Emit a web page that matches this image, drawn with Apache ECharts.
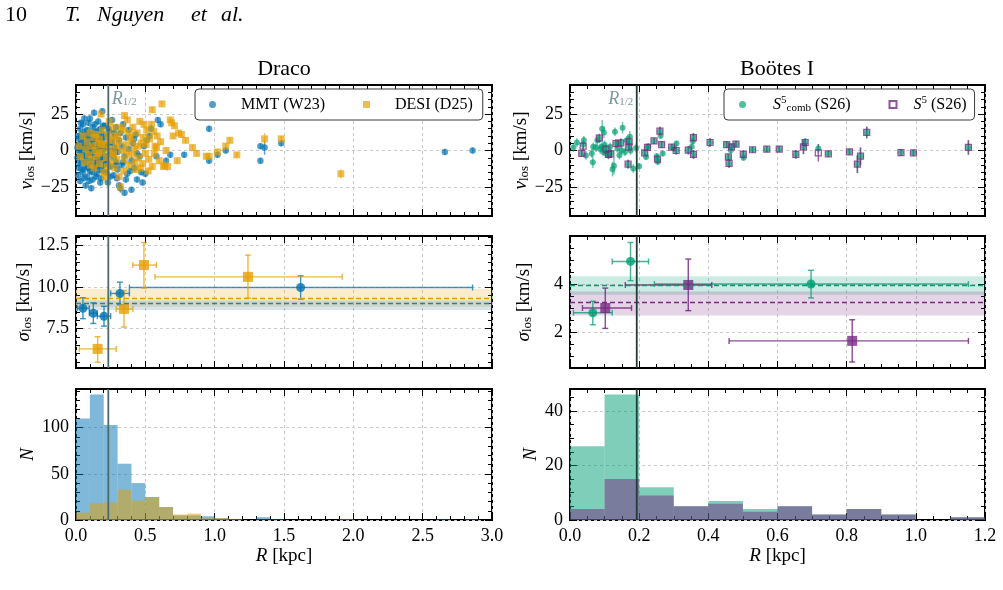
<!DOCTYPE html>
<html>
<head>
<meta charset="utf-8">
<script src="https://cdn.jsdelivr.net/npm/echarts@6.0.0/dist/echarts.min.js"></script>
<style>html,body{margin:0;background:#fff}#chart{width:1003px;height:590px}</style>
</head>
<body>
<div id="chart"></div>
<script>
"use strict";

// ---- data ---------------------------------------------------------------
// Draco, individual stars: [R kpc, v_los km/s, error]
const DRACO_MMT = [
  [0.01,2,2],[0.01,-5,2],[0.02,8,2],[0.02,-12,2],[0.02,0,2],[0.03,15,2],[0.03,-3,2],[0.03,-21,2],
  [0.04,5,2],[0.04,-8,2],[0.04,11,2],[0.05,-1,2],[0.05,18,2],[0.05,-15,3],[0.06,3,2],[0.06,-6,2],
  [0.06,22,2],[0.07,9,2],[0.07,-11,2],[0.07,-24,2],[0.08,1,2],[0.08,14,2],[0.08,-4,2],[0.08,-18,2],
  [0.09,6,2],[0.09,-9,2],[0.09,19,2],[0.10,-2,2],[0.10,12,2],[0.10,-14,2],[0.10,22,2],
  [0.11,4,2],[0.11,-7,2],[0.11,-26,2],[0.12,16,2],[0.12,-1,2],[0.12,-20,2],[0.13,8,2],[0.13,-12,2],
  [0.13,26,2],[0.14,2,2],[0.14,-5,2],[0.14,13,2],[0.15,-16,2],[0.15,6,2],[0.15,-9,2],[0.16,20,2],
  [0.16,0,2],[0.16,-3,2],[0.17,10,2],[0.17,-13,2],[0.17,-6,2],[0.18,3,2],[0.18,15,2],[0.18,-19,2],
  [0.19,7,2],[0.19,-2,2],[0.19,27,2],[0.20,-10,2],[0.20,11,2],[0.20,1,2],
  [0.21,-7,2],[0.21,17,2],[0.22,4,2],[0.22,-15,2],[0.23,-22,2],[0.23,9,2],[0.24,-3,2],[0.24,13,2],
  [0.25,0,2],[0.25,-11,2],[0.26,6,2],[0.26,21,2],[0.27,-5,2],[0.27,-17,2],[0.28,2,2],[0.28,10,2],
  [0.29,-8,3],[0.29,16,2],[0.30,-1,2],[0.30,-13,2],
  [0.31,-24,2],[0.31,7,2],[0.32,-26,3],[0.33,3,2],[0.33,-10,2],[0.34,18,2],[0.35,-29,2],[0.35,-4,2],
  [0.36,9,2],[0.37,-16,2],[0.38,1,2],[0.38,14,2],[0.40,-27,2],[0.40,-7,3],[0.41,5,2],[0.42,-12,3],
  [0.43,11,2],[0.44,-20,2],[0.44,-2,2],
  [0.47,-15,2],[0.48,-22,2],[0.49,3,2],[0.50,-16,2],[0.51,7,2],[0.53,10,2],[0.54,15,2],[0.58,-4,2],
  [0.59,21,2],[0.61,18,2],[0.65,-7,2],[0.68,-3,2],
  [0.015,10,2],[0.015,-17,2],[0.025,4,2],[0.025,-9,2],[0.035,-1,2],[0.035,19,2],[0.045,-13,2],
  [0.045,2,2],[0.055,7,2],[0.055,-19,2],[0.065,-3,2],[0.065,13,2],[0.075,4,2],[0.075,-7,2],
  [0.085,10,2],[0.085,-12,2],[0.095,0,2],[0.095,-21,2],[0.105,7,2],[0.105,-5,2],[0.115,11,2],
  [0.115,-15,2],[0.125,3,2],[0.125,-9,2],[0.135,18,2],[0.135,-3,2],[0.145,-18,2],[0.145,8,2],
  [0.155,-11,2],[0.155,1,2],[0.165,14,2],[0.165,-8,2],[0.175,-22,2],[0.175,5,2],[0.185,-5,2],
  [0.185,9,2],[0.195,-14,2],[0.195,17,2],[0.205,-4,2],[0.215,2,2],[0.225,-9,2],[0.235,15,2],
  [0.245,-18,2],[0.255,5,2],[0.265,-2,2],[0.275,12,2],[0.285,-10,2],[0.295,-19,2],[0.32,12,2],
  [0.34,-8,2],[0.36,-20,2],[0.39,-14,2],[0.42,8,2],[0.46,-4,2],
  [0.78,-3,2],[0.96,15,2],[0.96,-7,2],[1.02,-3,2],[1.08,0,2],[1.33,3,2],[1.33,-7,2],[1.36,2,5],
  [1.48,5,2],[2.66,-1,2],[2.86,0,2]
];
const DRACO_DESI = [
  [0.02,3,2],[0.03,-4,2],[0.05,10,2],[0.06,-8,2],[0.07,1,2],[0.08,6,2],[0.09,-3,2],[0.10,12,2],
  [0.11,-6,2],[0.12,3,2],[0.13,-12,2],[0.13,9,2],[0.14,0,2],[0.15,-4,2],[0.16,5,2],[0.17,8,2],
  [0.17,-9,2],[0.18,25,2],[0.19,-1,2],[0.19,14,2],[0.20,-15,2],[0.21,4,2],[0.21,-18,4],[0.22,-5,2],
  [0.23,11,2],[0.24,1,2],[0.24,20,2],[0.25,-8,2],[0.26,7,2],[0.27,-2,2],[0.27,16,2],[0.28,-12,2],
  [0.29,3,2],[0.30,10,2],[0.31,-18,2],[0.31,6,2],[0.32,-25,3],[0.33,0,2],[0.34,14,2],[0.35,24,2],
  [0.35,-6,2],[0.36,4,2],[0.37,21,2],[0.38,-10,2],[0.39,9,2],[0.40,-3,2],[0.41,16,2],[0.42,1,2],
  [0.43,-13,2],[0.44,12,2],[0.45,-5,2],[0.46,20,2],[0.47,5,2],[0.48,-9,2],[0.49,18,2],[0.50,-2,2],
  [0.51,14,2],[0.52,-14,2],[0.53,8,2],[0.55,28,2],[0.55,-11,2],[0.56,13,2],[0.57,3,2],[0.58,2,2],
  [0.60,-7,2],[0.61,6,2],[0.62,32,2],[0.63,-11,2],[0.64,-10,2],[0.65,0,2],[0.66,-11,3],[0.68,21,2],
  [0.69,19,2],[0.70,10,2],[0.71,17,2],[0.73,-7,2],[0.74,12,2],[0.76,11,2],[0.79,7,2],[0.84,2,2],
  [0.105,-10,2],[0.145,11,2],[0.165,-2,2],[0.185,4,2],[0.225,-11,2],[0.235,7,2],[0.255,-3,2],
  [0.275,10,2],[0.295,-6,2],[0.325,16,2],[0.345,-14,2],[0.365,-1,2],[0.385,12,2],[0.405,6,2],
  [0.425,-8,2],[0.445,3,2],[0.465,-12,2],[0.485,9,2],[0.505,4,2],[0.525,-6,2],[0.545,18,2],
  [0.565,-2,2],[0.585,10,2],
  [0.87,-2,2],[0.94,-4,2],[0.96,-4,2],[1.02,-1,2],[1.08,3,2],[1.11,7,2],[1.16,-3,2],[1.36,8,4],
  [1.48,8,2],[1.91,-16,3]
];
// Bootes I, individual stars: [R kpc, v_los km/s, error]
const BOO_COMB = [
  [0.01,2,3],[0.02,5.5,3],[0.034,-2,2],[0.038,4,3],[0.04,7,3],[0.046,-3.4,3],[0.063,-2,3],[0.066,-8,4],
  [0.067,2.5,3],[0.075,2,3],[0.079,7,4],[0.085,8,3],[0.087,1,3],[0.091,2.5,3],[0.093,15,6],[0.096,-1,3],
  [0.098,12.4,4],[0.1,4,3],[0.104,1,3],[0.106,-2,3],[0.111,-3,3],[0.116,2.5,3],[0.118,-2,3],[0.123,-12.8,5],
  [0.127,-10.5,6],[0.13,12.8,3],[0.133,4.8,3],[0.137,1.4,3],[0.143,-3.2,3],[0.147,5.3,3],[0.149,0.2,3],
  [0.152,15.6,4],[0.159,-1,3],[0.164,7,3],[0.168,-9.4,3],[0.17,2.5,3],[0.171,6,3],[0.173,9.4,4],[0.175,0,3],
  [0.183,-12.4,3],[0.191,1.8,3],[0.2,-10.8,2],[0.216,-1.6,2],[0.22,-4.4,2],[0.224,2,2],[0.226,3,2],
  [0.243,6.6,2],[0.251,-3.9,2],[0.253,-6,3],[0.254,-7.8,2],[0.26,13.3,3],[0.262,10.1,2],[0.265,4.1,2],
  [0.268,-2,2],[0.294,2.3,2],[0.3,1.4,2],[0.307,0,2],[0.308,4.8,2],[0.342,0.2,2],[0.352,2.5,2],
  [0.355,6.4,2],[0.357,8.9,3],[0.357,-2.7,3],[0.405,5.5,3],[0.453,4.1,2],[0.458,-4.4,2],[0.46,-8.9,3],
  [0.465,0.2,2],[0.467,2.5,2],[0.48,4.4,2],[0.501,-2.7,2],[0.502,-5,2],[0.528,0.5,2],[0.569,0.9,2],
  [0.605,0.9,2],[0.653,-2.7,3],[0.675,2.5,5],[0.68,5.5,3],[0.718,1.4,3],[0.747,-2.3,2],[0.808,-0.9,2],
  [0.831,-9.4,6],[0.84,-3.9,6],[0.858,12.4,4],[0.957,-1.4,2],[0.993,-1.6,2],[1.152,2.1,5]
];
const BOO_S5 = [
  [0.034,-2,2],[0.038,3,3],[0.085,8.5,3],[0.104,1,3],[0.111,-2.7,3],[0.118,-2.3,3],[0.133,4.8,3],
  [0.147,5.3,3],[0.168,-9.4,3],[0.17,2.5,3],[0.171,6,4],[0.216,-1.6,2],[0.224,2.1,2],[0.243,6.6,2],
  [0.253,-6,3],[0.26,13.3,3],[0.265,4.1,2],[0.294,2.3,2],[0.307,0,3],[0.342,0.2,3],[0.357,8.9,3],
  [0.357,-2.7,3],[0.405,5.5,3],[0.453,4.1,2],[0.458,-4.4,2],[0.46,-8.9,3],[0.467,2.5,2],[0.48,4.4,2],
  [0.501,-2.7,3],[0.528,0.5,2],[0.569,0.9,2],[0.605,0.9,2],[0.653,-2.7,3],[0.675,2.5,5],[0.68,5.5,3],
  [0.718,-1.6,6],[0.747,-2.3,2],[0.808,-0.9,2],[0.831,-9.4,6],[0.84,-3.9,6],[0.858,12.4,4],
  [0.957,-1.4,2],[0.993,-1.6,2],[1.152,2.1,5]
];

// binned dispersion: [R, R lo, R hi, sigma, sigma lo, sigma hi]
const DRACO_SIG_MMT = [
  [0.05,0.01,0.096,8.73,8.10,9.36],[0.125,0.096,0.154,8.43,7.81,9.05],[0.202,0.154,0.25,8.25,7.65,8.85],
  [0.317,0.25,0.385,9.62,8.94,10.30],[1.62,0.385,2.86,9.98,9.28,10.68]
];
const DRACO_SIG_DESI = [
  [0.156,0.024,0.29,6.28,5.48,7.02],[0.346,0.29,0.41,8.69,7.59,9.78],
  [0.49,0.41,0.58,11.33,9.94,12.69],[1.24,0.57,1.92,10.62,9.34,11.93]
];
const BOO_SIG_COMB = [
  [0.066,0.01,0.122,2.80,2.30,3.28],[0.175,0.122,0.227,4.94,4.14,5.73],[0.697,0.244,1.152,4.0,3.42,4.57]
];
const BOO_SIG_S5 = [
  [0.102,0.036,0.178,3.0,2.15,3.83],[0.342,0.16,0.41,3.96,2.89,5.04],[0.816,0.46,1.152,1.63,0.75,2.51]
];
// global dispersion: [value, lo, hi]
const DRACO_MEAN_MMT = [9.0, 8.63, 9.19];
const DRACO_MEAN_DESI = [9.34, 8.80, 9.90];
const BOO_MEAN_COMB = [3.96, 3.55, 4.32];
const BOO_MEAN_S5 = [3.26, 2.69, 3.69];

// histograms, 0.1 kpc bins starting at 0
const BIN = 0.1;
const DRACO_HIST_MMT = [110,136,103,61,40,25,14,5,5,4,2,0,0,3,1,0,0,0,0,0,0,0,0,0,0,0,1,0,1];
const DRACO_HIST_DESI = [8,18,19,33,21,24,14,6,7,2,2,1,0,0,0,0,0,0,0,1];
const BOO_HIST_COMB = [27,46,12,5,7,4,5,2,4,2,0,1];
const BOO_HIST_S5 = [4,15,9,5,6,3,5,2,4,2,0,1];

const R_HALF_DRACO = 0.233;
const R_HALF_BOO = 0.193;

// tick values
const X_TICKS_DRACO = [0, 0.5, 1, 1.5, 2, 2.5, 3];
const X_TICKS_BOO = [0, 0.2, 0.4, 0.6, 0.8, 1.0, 1.2];
const V_TICKS = [-25, 0, 25];
const SIG_TICKS_DRACO = [7.5, 10, 12.5];
const SIG_TICKS_BOO = [2, 4];
const N_TICKS_DRACO = [0, 50, 100];
const N_TICKS_BOO = [0, 20, 40];

// ---- style ---------------------------------------------------------------
const FONT = "'Liberation Serif', 'DejaVu Serif', serif";
const BLUE = "#0072B2", ORANGE = "#E69F00", GREEN = "#009E73", PURPLE = "#762A83";
const RH_LEFT = "#4d6a6a", RH_RIGHT = "#1e3e36", RH_TEXT = "#5e7f7f";
const COLS = [{ left: 76, width: 416 }, { left: 570, width: 415 }];
const ROWS = [{ top: 85, height: 131 }, { top: 236, height: 132 }, { top: 389, height: 131 }];

const rgba = (hex, a) => {
  const n = parseInt(hex.slice(1), 16);
  return `rgba(${n >> 16},${(n >> 8) & 255},${n & 255},${a})`;
};
const steps = (lo, hi, step) => {
  const out = [];
  for (let i = Math.ceil(lo / step - 1e-9); i * step <= hi + 1e-9; i++) out.push(+(i * step).toFixed(4));
  return out;
};
const minus = (v) => (v < 0 ? "\u2212" : "") + Math.abs(v);

const RICH = {
  i: { fontFamily: FONT, fontStyle: "italic", fontSize: 19, lineHeight: 20, color: "#000" },
  sub: { fontFamily: FONT, fontSize: 13, lineHeight: 8, verticalAlign: "bottom", color: "#000" },
};
const NAME_STYLE = { fontFamily: FONT, fontSize: 19, lineHeight: 20, color: "#000", rich: RICH };

// four axes per grid and dimension: main + minor ticks on both sides
function axisSet(dim, g, min, max, majors, minorStep, o) {
  const pos = dim === "x" ? ["bottom", "top"] : ["left", "right"];
  const minors = steps(min, max, minorStep);
  const base = {
    type: "value", gridIndex: g, min, max,
    axisLine: { show: false, onZero: false },
    splitLine: { show: false }, axisLabel: { show: false },
  };
  const tick = (vals, len) => ({
    show: true, inside: true, length: len, customValues: vals,
    lineStyle: { color: "#000", width: 1 },
  });
  const main = {
    ...base, position: pos[0], axisTick: tick(majors, 7),
    splitLine: { show: true, lineStyle: { type: [3, 3], color: "#c9c9c9", width: 1 } },
    axisLabel: o.labels
      ? { show: true, customValues: majors, formatter: o.fmt, color: "#000",
          fontFamily: FONT, fontSize: 18, margin: 7 }
      : { show: false },
  };
  if (o.name) {
    Object.assign(main, { name: o.name, nameLocation: "middle", nameGap: o.gap,
      nameTextStyle: NAME_STYLE, nameRotate: dim === "y" ? 90 : 0 });
  }
  return [
    main,
    { ...base, position: pos[0], axisTick: tick(minors, 4) },
    { ...base, position: pos[1], axisTick: tick(majors, 7) },
    { ...base, position: pos[1], axisTick: tick(minors, 4) },
  ];
}

const grids = [], xAxes = [], yAxes = [], series = [];
const fmt1 = (v) => v.toFixed(1);

// panel specs: [col, row, xRange, xTicks, xMinor, yRange, yTicks, yMinor, yName, yGap]
const V_NAME = "{i|v}{sub|los} [km/s]";
const S_NAME = "{i|\u03c3}{sub|los} [km/s]";
const PANELS = [
  [0, 0, [0, 3], X_TICKS_DRACO, 0.1, [-45, 45], V_TICKS, 5, V_NAME, 36],
  [0, 1, [0, 3], X_TICKS_DRACO, 0.1, [5.13, 13.08], SIG_TICKS_DRACO, 0.5, S_NAME, 36],
  [0, 2, [0, 3], X_TICKS_DRACO, 0.1, [0, 142], N_TICKS_DRACO, 10, "{i|N}", 38],
  [1, 0, [0, 1.2], X_TICKS_BOO, 0.05, [-45, 45], V_TICKS, 5, V_NAME, 38],
  [1, 1, [0, 1.2], X_TICKS_BOO, 0.05, [0.5, 6.0], SIG_TICKS_BOO, 0.5, S_NAME, 36],
  [1, 2, [0, 1.2], X_TICKS_BOO, 0.05, [0, 48], N_TICKS_BOO, 5, "{i|N}", 24],
];
PANELS.forEach(([c, r, xr, xt, xm, yr, yt, ym, yName, yGap], g) => {
  grids.push({ left: COLS[c].left, width: COLS[c].width, top: ROWS[r].top, height: ROWS[r].height,
    show: true, borderColor: "#000", borderWidth: 2, backgroundColor: "transparent" });
  const bottom = r === 2;
  xAxes.push(...axisSet("x", g, xr[0], xr[1], xt, xm, {
    labels: bottom, fmt: fmt1, name: bottom ? "{i|R} [kpc]" : "", gap: 17 }));
  yAxes.push(...axisSet("y", g, yr[0], yr[1], yt, ym, {
    labels: true, fmt: r === 0 ? minus : (r === 1 && c === 0 ? fmt1 : String), name: yName, gap: yGap }));
});
const on = (g) => ({ xAxisIndex: g * 4, yAxisIndex: g * 4 });
const yRange = (g) => [yAxes[g * 4].min, yAxes[g * 4].max];

// ---- series builders -------------------------------------------------------
function vErrors(g, data, color, alpha) {
  return { type: "custom", ...on(g), data, encode: { x: 0, y: 1 }, clip: true, silent: true, z: 2,
    renderItem: (p, api) => {
      const a = api.coord([api.value(0), api.value(1) - api.value(2)]);
      const b = api.coord([api.value(0), api.value(1) + api.value(2)]);
      return { type: "line", shape: { x1: a[0], y1: a[1], x2: b[0], y2: b[1] },
        style: { stroke: rgba(color, alpha), lineWidth: 1.5 } };
    } };
}
function points(g, name, data, symbol, size, style, z) {
  return { type: "scatter", name, ...on(g), data: data.map((d) => [d[0], d[1]]), symbol,
    symbolSize: size, itemStyle: style, clip: true, silent: true, z: z || 3 };
}
function sigErrors(g, data, color, alpha) {
  return { type: "custom", ...on(g), data, encode: { x: 0, y: 3 }, clip: true, silent: true, z: 3,
    renderItem: (p, api) => {
      const v = (i) => api.value(i);
      const c = api.coord([v(0), v(3)]), l = api.coord([v(1), v(3)]), r = api.coord([v(2), v(3)]);
      const t = api.coord([v(0), v(5)]), b = api.coord([v(0), v(4)]);
      const st = { stroke: rgba(color, alpha), lineWidth: 1.4 };
      const seg = (x1, y1, x2, y2) => ({ type: "line", shape: { x1, y1, x2, y2 }, style: st });
      return { type: "group", children: [
        seg(l[0], c[1], r[0], c[1]), seg(c[0], t[1], c[0], b[1]),
        seg(l[0], c[1] - 3, l[0], c[1] + 3), seg(r[0], c[1] - 3, r[0], c[1] + 3),
        seg(c[0] - 3, t[1], c[0] + 3, t[1]), seg(c[0] - 3, b[1], c[0] + 3, b[1]),
      ] };
    } };
}
function meanBand(g, mean, color) {
  return { type: "line", ...on(g), data: [], silent: true, z: 1,
    markArea: { silent: true, itemStyle: { color: rgba(color, 0.2) }, data: [[{ yAxis: mean[1] }, { yAxis: mean[2] }]] },
    markLine: { silent: true, symbol: "none", label: { show: false },
      lineStyle: { color, type: [5, 3], width: 1.4 }, data: [{ yAxis: mean[0] }] } };
}
function histogram(g, counts, color) {
  return { type: "custom", ...on(g), data: counts.map((n, i) => [i * BIN, (i + 1) * BIN, n]),
    encode: { x: [0, 1], y: 2 }, clip: true, silent: true, z: 2,
    renderItem: (p, api) => {
      const a = api.coord([api.value(0), api.value(2)]);
      const b = api.coord([api.value(1), 0]);
      return { type: "rect", shape: { x: a[0], y: a[1], width: b[0] - a[0], height: b[1] - a[1] },
        style: { fill: rgba(color, 0.5) } };
    } };
}
function rHalf(g, R, color) {
  const [lo, hi] = yRange(g);
  return { type: "line", ...on(g), data: [[R, lo], [R, hi]], symbol: "none", silent: true, z: 6,
    lineStyle: { color, width: 1.8 } };
}
function rHalfLabel(g, R, side) {
  return { type: "scatter", ...on(g), data: [[R, 35.5]], symbolSize: 1, silent: true, z: 6,
    itemStyle: { color: "transparent" },
    label: { show: true, position: side, distance: 3, formatter: "{i|R}{s|1/2}",
      rich: { i: { fontFamily: FONT, fontStyle: "italic", fontSize: 18, lineHeight: 18, color: RH_TEXT },
              s: { fontFamily: FONT, fontSize: 11, lineHeight: 7, verticalAlign: "bottom", color: RH_TEXT } } } };
}

// Draco
series.push(
  vErrors(0, DRACO_MMT, BLUE, 0.6),
  points(0, "MMT (W23)", DRACO_MMT, "circle", 6.5, { color: rgba(BLUE, 0.85) }),
  vErrors(0, DRACO_DESI, ORANGE, 0.6),
  points(0, "DESI (D25)", DRACO_DESI, "rect", 7, { color: rgba(ORANGE, 0.85) }, 4),
  rHalf(0, R_HALF_DRACO, RH_LEFT), rHalfLabel(0, R_HALF_DRACO, "right"),
  meanBand(1, DRACO_MEAN_DESI, ORANGE), meanBand(1, DRACO_MEAN_MMT, "#2a7fa8"),
  sigErrors(1, DRACO_SIG_MMT, BLUE, 0.75),
  points(1, "MMT (W23)", DRACO_SIG_MMT.map((d) => [d[0], d[3]]), "circle", 9, { color: BLUE }, 4),
  sigErrors(1, DRACO_SIG_DESI, ORANGE, 0.75),
  points(1, "DESI (D25)", DRACO_SIG_DESI.map((d) => [d[0], d[3]]), "rect", 10, { color: ORANGE }, 4),
  rHalf(1, R_HALF_DRACO, RH_LEFT),
  histogram(2, DRACO_HIST_MMT, BLUE), histogram(2, DRACO_HIST_DESI, ORANGE),
  rHalf(2, R_HALF_DRACO, RH_LEFT)
);
// Bootes I
const HOLLOW = { color: "transparent", borderColor: PURPLE, borderWidth: 1.2 };
series.push(
  vErrors(3, BOO_COMB, GREEN, 0.55),
  points(3, "S5comb (S26)", BOO_COMB, "circle", 6, { color: rgba(GREEN, 0.85) }),
  vErrors(3, BOO_S5, PURPLE, 0.7),
  points(3, "S5 (S26)", BOO_S5, "rect", 6, HOLLOW, 4),
  rHalf(3, R_HALF_BOO, RH_RIGHT), rHalfLabel(3, R_HALF_BOO, "left"),
  meanBand(4, BOO_MEAN_COMB, GREEN), meanBand(4, BOO_MEAN_S5, PURPLE),
  sigErrors(4, BOO_SIG_COMB, GREEN, 0.75),
  points(4, "S5comb (S26)", BOO_SIG_COMB.map((d) => [d[0], d[3]]), "circle", 9, { color: GREEN }, 4),
  sigErrors(4, BOO_SIG_S5, PURPLE, 0.85),
  points(4, "S5 (S26)", BOO_SIG_S5.map((d) => [d[0], d[3]]), "rect", 10, { color: PURPLE }, 4),
  rHalf(4, R_HALF_BOO, RH_RIGHT),
  histogram(5, BOO_HIST_COMB, GREEN), histogram(5, BOO_HIST_S5, PURPLE),
  rHalf(5, R_HALF_BOO, RH_RIGHT)
);

const LEGEND_BASE = {
  orient: "horizontal", itemWidth: 7, itemHeight: 7, selectedMode: false,
  borderColor: "#3a3a3a", borderWidth: 1, borderRadius: 4, backgroundColor: "#fff", z: 10,
  textStyle: { fontFamily: FONT, fontSize: 16, color: "#000", lineHeight: 19,
    rich: {
      i: { fontFamily: FONT, fontStyle: "italic", fontSize: 16, lineHeight: 19, color: "#000" },
      sup: { fontFamily: FONT, fontSize: 11, lineHeight: 7, verticalAlign: "top", color: "#000" },
      sub: { fontFamily: FONT, fontSize: 11, lineHeight: 6, verticalAlign: "bottom", color: "#000" },
    } },
};
const LEGEND_TEXT = {
  "S5comb (S26)": "{i|S}{sup|5}{sub|comb} (S26)",
  "S5 (S26)": "{i|S}{sup|5} (S26)",
};

// page header words, placed to follow the wider typeset spacing
const HEADER = (text, x, italic) => ({ type: "text", x, y: 15,
  style: { text, fontFamily: FONT, fontStyle: italic ? "italic" : "normal", fontSize: 22,
    fill: "#000", verticalAlign: "middle" } });

const option = {
  animation: false,
  backgroundColor: "#fff",
  textStyle: { fontFamily: FONT },
  grid: grids, xAxis: xAxes, yAxis: yAxes, series,
  legend: [
    { ...LEGEND_BASE, left: 195, top: 89, padding: [6, 10, 6, 14], itemGap: 38,
      textStyle: { ...LEGEND_BASE.textStyle, padding: [0, 0, 0, 20] },
      data: ["MMT (W23)", "DESI (D25)"] },
    { ...LEGEND_BASE, left: 724, top: 89, padding: [6, 8, 6, 15], itemGap: 38,
      formatter: (n) => LEGEND_TEXT[n],
      data: [{ name: "S5comb (S26)", textStyle: { padding: [0, 0, 0, 22] } },
             { name: "S5 (S26)", textStyle: { padding: [0, 0, 0, 12] } }] },
  ],
  graphic: [
    HEADER("10", 5, false),
    HEADER("T.", 65, true), HEADER("Nguyen", 97, true), HEADER("et", 191, true), HEADER("al.", 221, true),
    { type: "text", x: 284, y: 69, style: { text: "Draco", fontFamily: FONT, fontSize: 22, fill: "#000", align: "center", verticalAlign: "middle" } },
    { type: "text", x: 777, y: 69, style: { text: "Bo\u00f6tes I", fontFamily: FONT, fontSize: 22, fill: "#000", align: "center", verticalAlign: "middle" } },
  ],
};

echarts.init(document.getElementById("chart"), null, { renderer: "canvas" }).setOption(option);
</script>
</body>
</html>
